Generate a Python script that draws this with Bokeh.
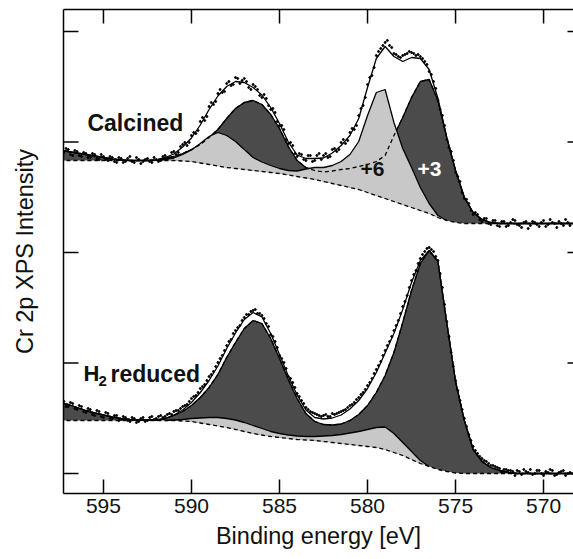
import numpy as np
from bokeh.plotting import figure
from bokeh.models import Range1d, FixedTicker, LinearAxis, Label
from bokeh.embed import file_html
from bokeh.resources import INLINE

# ---------------- data (binding energy in eV, intensity in arbitrary units) ----------------
energy = [597.5, 597.0, 596.5, 596.0, 595.5, 595.0, 594.5, 594.0, 593.5, 593.0,
          592.5, 592.0, 591.5, 591.0, 590.5, 590.0, 589.5, 589.0, 588.5, 588.0,
          587.5, 587.0, 586.5, 586.0, 585.5, 585.0, 584.5, 584.0, 583.5, 583.0,
          582.5, 582.0, 581.5, 581.0, 580.5, 580.0, 579.5, 579.0, 578.5, 578.0,
          577.5, 577.0, 576.5, 576.0, 575.5, 575.0, 574.5, 574.0, 573.5, 573.0,
          572.5, 572.0, 571.5, 571.0, 570.5, 570.0, 569.5, 569.0, 568.5, 568.0]

# Calcined: Shirley background, background + Cr(III) fit, background + Cr(VI) fit
calc_bg = [313, 313, 313, 313, 313, 313, 313, 313, 313, 313,
           313, 313, 313, 313, 312.5, 312, 310.5, 309, 307.5, 306,
           305, 304, 303, 302, 301, 300, 298.5, 297, 295.5, 294,
           292, 290, 288, 286, 284, 281, 278, 275, 272, 269,
           266, 263, 260, 256, 253, 251, 250, 250, 250, 250,
           250, 250, 250, 250, 250, 250, 250, 250, 250, 250]
calc_cr3 = [324, 322, 320.5, 319, 317.5, 316, 314.5, 313.5, 313, 313,
            313, 313.5, 315, 317, 320, 324, 329, 336, 344, 355,
            365, 371, 373, 369, 359, 345, 327, 313, 306, 303,
            301.5, 302.5, 304, 305, 307, 309, 312, 318, 338, 356,
            376, 392, 394, 373, 336, 303, 276, 261, 254, 251,
            250, 250, 250, 250, 250, 250, 250, 250, 250, 250]
calc_cr6 = [313, 313, 313, 313, 313, 313, 313, 313, 313, 313,
            313, 313, 314, 315.5, 319, 323.5, 330, 337, 341, 338,
            332, 324, 316, 311.5, 308, 305, 303, 302.5, 304.5, 306,
            306, 308, 312, 319, 332, 358, 381, 384, 351, 325,
            306, 286, 270, 258, 253, 251, 250, 250, 250, 250,
            250, 250, 250, 250, 250, 250, 250, 250, 250, 250]

# H2 reduced
red_bg = [53, 53, 53, 53, 53, 53, 53, 53, 53, 53,
          53, 53, 53, 53, 52.5, 52, 50.5, 49, 47.5, 46,
          44, 42, 40, 38.5, 37, 36, 35, 34, 33.5, 33,
          32, 31, 30, 29, 28, 27, 26, 24, 21, 18,
          14, 10, 7, 4, 2, 0.5, 0, 0, 0, 0,
          0, 0, 0, 0, 0, 0, 0, 0, 0, 0]
red_cr3 = [71, 69, 66, 63, 60.5, 58.5, 56.5, 55, 54, 53.5,
           53.5, 53.5, 55, 58, 62, 68, 76, 86, 99, 116,
           131, 145, 153, 150, 135, 115, 94, 75, 60, 52,
           49, 48.5, 49.5, 53, 59, 68, 81, 98, 121, 151,
           183, 210, 223, 212, 151, 92, 53, 24, 12, 6,
           3, 1, 0, 0, 0, 0, 0, 0, 0, 0]
red_cr6 = [53, 53, 53, 53, 53, 53, 53, 53, 53, 53,
           53, 53, 53, 53.5, 54, 55, 55.5, 56, 56, 55,
           53.5, 51, 48, 45, 42, 40, 38.5, 37.5, 37, 37,
           37.5, 38, 39, 40.5, 42, 44, 46, 46.5, 40, 31,
           22, 13, 7, 4, 2, 0.5, 0, 0, 0, 0,
           0, 0, 0, 0, 0, 0, 0, 0, 0, 0]

# measured points (two interleaved read-outs of the raw data)
energy_pts = [597.25, 597.0, 596.75, 596.5, 596.25, 596.0, 595.75, 595.5, 595.25, 595.0,
              594.75, 594.5, 594.25, 594.0, 593.75, 593.5, 593.25, 593.0, 592.75, 592.5,
              592.25, 592.0, 591.75, 591.5, 591.25, 591.0, 590.75, 590.5, 590.25, 590.0,
              589.75, 589.5, 589.25, 589.0, 588.75, 588.5, 588.25, 588.0, 587.75, 587.5,
              587.25, 587.0, 586.75, 586.5, 586.25, 586.0, 585.75, 585.5, 585.25, 585.0,
              584.75, 584.5, 584.25, 584.0, 583.75, 583.5, 583.25, 583.0, 582.75, 582.5,
              582.25, 582.0, 581.75, 581.5, 581.25, 581.0, 580.75, 580.5, 580.25, 580.0,
              579.75, 579.5, 579.25, 579.0, 578.75, 578.5, 578.25, 578.0, 577.75, 577.5,
              577.25, 577.0, 576.75, 576.5, 576.25, 576.0, 575.75, 575.5, 575.25, 575.0,
              574.75, 574.5, 574.25, 574.0, 573.75, 573.5, 573.25, 573.0, 572.75, 572.5,
              572.25, 572.0, 571.75, 571.5, 571.25, 571.0, 570.75, 570.5, 570.25, 570.0,
              569.75, 569.5, 569.25, 569.0, 568.75, 568.5]
calc_pts = [321, 324, 318, 322, 317, 320, 316, 319, 314, 317,
            313, 316, 311, 315, 312, 317, 311, 314, 312, 315,
            311, 314, 313, 318, 316, 322, 321, 329, 328, 338,
            340, 352, 353, 367, 369, 380, 381, 390, 388, 396,
            390, 395, 386, 389, 384, 376, 375, 364, 361, 348,
            344, 330, 328, 317, 319, 313, 318, 313, 320, 318,
            316, 324, 322, 331, 330, 341, 344, 358, 368, 389,
            398, 418, 425, 431, 428, 420, 417, 418, 420, 421,
            418, 417, 412, 402, 392, 373, 358, 334, 322, 301,
            292, 275, 270, 259, 259, 252, 255, 249, 253, 247,
            252, 248, 254, 249, 246, 252, 248, 251, 247, 253,
            249, 251, 246, 250, 254, 248]
red_pts = [72, 67, 70, 64, 67, 61, 64, 58, 62, 56,
           60, 55, 58, 54, 56, 52, 55, 52, 56, 53,
           57, 55, 58, 57, 60, 62, 63, 67, 69, 75,
           78, 85, 89, 97, 102, 111, 118, 128, 134, 143,
           148, 156, 159, 163, 160, 158, 150, 139, 132, 118,
           111, 97, 91, 80, 73, 66, 62, 60, 58, 58,
           57, 60, 60, 62, 64, 68, 71, 76, 81, 88,
           95, 104, 112, 123, 132, 143, 153, 167, 178, 193,
           203, 215, 222, 226, 222, 213, 186, 152, 121, 93,
           73, 55, 39, 27, 20, 15, 12, 8, 7, 5,
           4, 3, 2, 3, -1, 2, 4, 0, 3, -2,
           1, 3, -1, 2, -2, 1]

energy_pts2 = [597.125, 596.875, 596.625, 596.375, 596.125, 595.875, 595.625, 595.375, 595.125, 594.875,
               594.625, 594.375, 594.125, 593.875, 593.625, 593.375, 593.125, 592.875, 592.625, 592.375,
               592.125, 591.875, 591.625, 591.375, 591.125, 590.875, 590.625, 590.375, 590.125, 589.875,
               589.625, 589.375, 589.125, 588.875, 588.625, 588.375, 588.125, 587.875, 587.625, 587.375,
               587.125, 586.875, 586.625, 586.375, 586.125, 585.875, 585.625, 585.375, 585.125, 584.875,
               584.625, 584.375, 584.125, 583.875, 583.625, 583.375, 583.125, 582.875, 582.625, 582.375,
               582.125, 581.875, 581.625, 581.375, 581.125, 580.875, 580.625, 580.375, 580.125, 579.875,
               579.625, 579.375, 579.125, 578.875, 578.625, 578.375, 578.125, 577.875, 577.625, 577.375,
               577.125, 576.875, 576.625, 576.375, 576.125, 575.875, 575.625, 575.375, 575.125, 574.875,
               574.625, 574.375, 574.125, 573.875, 573.625, 573.375, 573.125, 572.875, 572.625, 572.375,
               572.125, 571.875, 571.625, 571.375, 571.125, 570.875, 570.625, 570.375, 570.125, 569.875,
               569.625, 569.375, 569.125, 568.875, 568.625]
calc_pts2 = [325, 319, 323, 318, 321, 316, 320, 315, 319, 314,
             317, 312, 316, 311, 315, 312, 316, 310, 314, 312,
             316, 312, 317, 315, 321, 319, 327, 331, 331, 341,
             343, 356, 357, 371, 372, 384, 382, 392, 389, 395,
             393, 392, 384, 387, 378, 379, 368, 365, 352, 348,
             334, 331, 320, 320, 314, 318, 312, 318, 314, 320,
             317, 325, 324, 334, 333, 345, 348, 365, 376, 396,
             406, 422, 428, 433, 426, 419, 416, 419, 422, 420,
             419, 415, 409, 399, 385, 364, 348, 326, 313, 297,
             281, 274, 263, 261, 254, 255, 250, 253, 248, 252,
             247, 251, 253, 248, 251, 245, 252, 249, 251, 247,
             254, 250, 252, 248, 251]
red_pts2 = [67, 71, 65, 68, 62, 65, 59, 63, 57, 61,
            55, 58, 53, 57, 53, 56, 51, 55, 52, 56,
            54, 57, 56, 59, 59, 63, 65, 68, 72, 77,
            81, 87, 93, 99, 107, 115, 123, 132, 140, 146,
            153, 159, 162, 164, 160, 155, 147, 137, 126, 115,
            105, 95, 86, 77, 70, 64, 61, 59, 57, 59,
            57, 59, 61, 63, 66, 69, 74, 79, 84, 91,
            100, 108, 118, 128, 137, 148, 160, 172, 186, 199,
            210, 219, 225, 224, 217, 200, 169, 137, 107, 83,
            64, 47, 33, 23, 17, 13, 10, 8, 6, 1,
            4, 3, -2, 2, 4, 1, -1, 3, 0, 2,
            4, -2, 1, 3, 0]

x_ticks = [595, 590, 585, 580, 575, 570]
y_ticks = [0, 110.5, 221, 331.5, 442]

# ---------------- styles / layout ----------------
DARK = "#4b4b4b"
LIGHT = "#c8c8c8"
FONT = "Liberation Sans"
INK = "#111111"
LW = 1.3
DASH = "4 3"

W, H = 573, 559
BORDER_L, BORDER_R, BORDER_T, BORDER_B = 63, 0, 9, 66
X0, X1 = 597.27, 568.3
Y0, Y1 = -20, 464
px_per_ev = (W - BORDER_L - BORDER_R) / (X0 - X1)
px_per_unit = (H - BORDER_T - BORDER_B) / (Y1 - Y0)

p = figure(width=W, height=H,
           x_range=Range1d(X0, X1), y_range=Range1d(Y0, Y1),
           output_backend="svg", toolbar_location=None, title_location=None,
           min_border_left=BORDER_L, min_border_right=BORDER_R,
           min_border_top=BORDER_T, min_border_bottom=BORDER_B)
p.outline_line_color = None
p.xgrid.visible = False
p.ygrid.visible = False
p.background_fill_color = "white"
p.border_fill_color = "white"

xa = p.xaxis[0]
xa.ticker = FixedTicker(ticks=x_ticks, minor_ticks=[])
xa.major_tick_in = 14
xa.major_tick_out = 0
xa.minor_tick_in = 0
xa.minor_tick_out = 0
xa.major_tick_line_width = 1.5
xa.axis_line_width = 1.5
xa.major_label_text_font = FONT
xa.major_label_text_font_size = "21px"
xa.major_label_text_color = INK
xa.major_label_standoff = 5
xa.axis_label = "Binding energy [eV]"
xa.axis_label_text_font = FONT
xa.axis_label_text_font_size = "23.5px"
xa.axis_label_text_font_style = "normal"
xa.axis_label_text_color = INK
xa.axis_label_standoff = 7

ya = p.yaxis[0]
ya.ticker = FixedTicker(ticks=[], minor_ticks=[])
ya.major_tick_in = 0
ya.major_tick_out = 0
ya.minor_tick_in = 0
ya.minor_tick_out = 0
ya.axis_line_width = 1.5
ya.major_label_standoff = 0
ya.axis_label = "Cr 2p XPS Intensity"
ya.axis_label_text_font = FONT
ya.axis_label_text_font_size = "23.5px"
ya.axis_label_text_font_style = "normal"
ya.axis_label_text_color = INK
ya.axis_label_standoff = 26

top_axis = LinearAxis(ticker=FixedTicker(ticks=[], minor_ticks=[]),
                      major_tick_in=0, major_tick_out=0, minor_tick_in=0, minor_tick_out=0,
                      axis_line_width=1.5, major_label_standoff=0)
p.add_layout(top_axis, "above")

# inward tick marks on the top, left and right sides (same tick values as the axes)
top_len = 14 / px_per_unit
left_len = 15 / px_per_ev
right_len = 6 / px_per_ev
p.segment(x0=x_ticks, y0=[Y1] * len(x_ticks), x1=x_ticks, y1=[Y1 - top_len] * len(x_ticks),
          line_color="black", line_width=1.5)
p.segment(x0=[X0] * len(y_ticks), y0=y_ticks, x1=[X0 - left_len] * len(y_ticks), y1=y_ticks,
          line_color="black", line_width=1.5)
p.segment(x0=[X1] * len(y_ticks), y0=y_ticks, x1=[X1 + right_len] * len(y_ticks), y1=y_ticks,
          line_color="black", line_width=1.5)


def only_where_raised(base, comp):
    d = np.asarray(comp, float) - np.asarray(base, float)
    on = d > 0
    on[1:] |= d[:-1] > 0
    on[:-1] |= d[1:] > 0
    return np.where(on, np.asarray(comp, float), np.nan)


def spectrum(bg, cr3, cr6, pts, pts2):
    bg_a = np.asarray(bg, float)
    c3 = np.asarray(cr3, float)
    c6 = np.asarray(cr6, float)
    envelope = c3 + c6 - bg_a
    p.varea(x=energy, y1=bg_a, y2=c3, fill_color=DARK)
    p.line(energy, c3, line_color="black", line_width=LW)
    p.varea(x=energy, y1=bg_a, y2=c6, fill_color=LIGHT)
    p.line(energy, c3, line_color="black", line_width=LW, line_dash=DASH)
    p.line(energy, only_where_raised(bg_a, c6), line_color="black", line_width=LW)
    p.line(energy, bg_a, line_color="black", line_width=LW, line_dash=DASH)
    p.line(energy, envelope, line_color="black", line_width=LW)
    p.scatter(energy_pts, pts, size=2.0, color="black")
    p.scatter(energy_pts2, pts2, size=2.0, color="black")


spectrum(calc_bg, calc_cr3, calc_cr6, calc_pts, calc_pts2)
spectrum(red_bg, red_cr3, red_cr6, red_pts, red_pts2)

bold = dict(text_font=FONT, text_font_style="bold", text_baseline="alphabetic", text_align="left")
p.add_layout(Label(x=595.91, y=351, text="Calcined", text_font_size="23px", text_color=INK, **bold))
p.add_layout(Label(x=596.13, y=100, text="H", text_font_size="22px", text_color=INK, **bold))
p.add_layout(Label(x=595.28, y=93, text="2", text_font_size="15px", text_color=INK, **bold))
p.add_layout(Label(x=594.6, y=100, text="reduced", text_font_size="23px", text_color=INK, **bold))
p.add_layout(Label(x=580.4, y=305, text="+6", text_font_size="21px", text_color=INK, **bold))
p.add_layout(Label(x=577.16, y=305, text="+3", text_font_size="21px", text_color="white", **bold))

open("out.html", "w").write(file_html(p, INLINE))
